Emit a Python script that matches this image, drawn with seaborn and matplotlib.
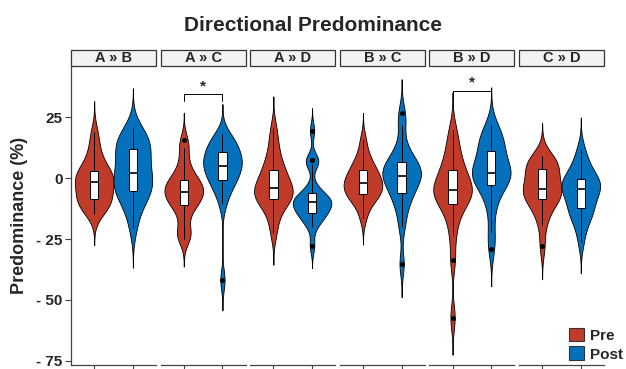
import matplotlib
matplotlib.use("Agg")
import matplotlib.pyplot as plt
from matplotlib.patches import Rectangle, Patch
import seaborn as sns
import numpy as np
import pandas as pd

# panel labels and groups
panels = ["A » B", "A » C", "A » D", "B » C", "B » D", "C » D"]
times = ["Pre", "Post"]
colors = {"Pre": "#C13B2A", "Post": "#0571BD"}

# values (approximate distributions per group)
pre_ab = [-14.8, -13, -11.5, -10.3, -9.3, -8.5, -7.1, -5.7, -4.3, -2.9, -1.5,
          -0.6, 0.3, 1.2, 2.1, 3.1, 4.8, 7, 10, 14, 19]
post_ab = [-20.3, -14, -10, -8, -6.2, -5.1, -3.5, -2, -0.5, 1, 2,
           4, 6.5, 8.5, 10.5, 12.2, 13.5, 14.8, 16.5, 18.5, 20.5]
pre_ac = [-25, -23, -21.5, -16, -12.5, -11.1, -9.5, -8.5, -7.5, -6.5, -5.7,
          -4.5, -3.5, -2.5, -1.5, -0.8, 1, 3.5, 7, 12.3, 15.6]
post_ac = [-41.8, -10.7, -6, -3.5, -2, -0.7, 1, 2.5, 3.5, 4.5, 5.2,
           6.5, 7.5, 8.5, 9.8, 10.7, 12, 13.5, 15, 16.5, 18]
pre_ad = [-22.5, -17, -13, -11, -9.5, -8.6, -7.5, -6.5, -5.5, -4.8, -4.1,
          -3, -1.5, 0, 1.8, 3.3, 5, 7.5, 11, 15, 20.6]
post_ad = [-27.7, -20.1, -17.5, -16, -15, -14.4, -13, -12, -11, -10.5, -9.9,
           -9.2, -8.5, -7.8, -7, -6.0, -3, 5.9, 7.5, 7.5, 19.6]
pre_bc = [-16.4, -12, -9.5, -8, -7.2, -6.6, -5.5, -4.5, -3.5, -2.6, -1.9,
          -1.2, -0.3, 0.8, 2, 3.3, 4.5, 6, 8, 11, 16]
post_bc = [-35.2, -20, -14, -10, -7.5, -5.9, -4, -2, -0.5, 0.3, 1.1,
           2, 3, 4, 5.5, 6.6, 8, 10, 14, 22, 27]
pre_bd = [-57.2, -33.5, -23.3, -17, -13, -10.7, -9, -7.5, -6.5, -5.5, -4.7,
          -3.5, -2.5, -1, 1, 3.3, 5, 7.5, 11, 15, 20]
post_bd = [-28.9, -22, -13, -8, -4.5, -2.8, -1, 0.5, 1.3, 1.8, 2.3,
           3.5, 5, 7, 9.5, 11.3, 13, 15, 17, 19, 21.9]
pre_cd = [-28, -19.2, -15, -12, -10, -8.6, -7.5, -6.5, -5.5, -5, -4.5,
          -3, -1, 0.5, 2, 3.7, 5, 6, 7, 8, 9.2]
post_cd = [-26, -20, -17, -15, -13.5, -12.3, -10.5, -8.5, -7, -5.5, -4.5,
           -3.5, -2.8, -2, -1.2, -0.4, 1, 3, 5, 8, 11.9]

groups = {
    "A » B": (pre_ab, post_ab),
    "A » C": (pre_ac, post_ac),
    "A » D": (pre_ad, post_ad),
    "B » C": (pre_bc, post_bc),
    "B » D": (pre_bd, post_bd),
    "C » D": (pre_cd, post_cd),
}
significant = ["A » C", "B » D"]

yticks = [25, 0, -25, -50, -75]
ytick_labels = ["25", "0", "- 25", "- 50", "- 75"]

rows = []
for p in panels:
    for t, vals in zip(times, groups[p]):
        for v in vals:
            rows.append({"panel": p, "time": t, "value": v})
df = pd.DataFrame(rows)


def nrd0(kde):
    # R-style default bandwidth, returned as a factor of the data sd
    x = kde.dataset.ravel()
    sd = x.std(ddof=1)
    q75, q25 = np.percentile(x, [75, 25])
    bw = 0.9 * min(sd, (q75 - q25) / 1.34) * len(x) ** -0.2
    return bw / sd


sns.set_style("white")
plt.rcParams["font.family"] = ["Liberation Sans", "DejaVu Sans"]
plt.rcParams["font.weight"] = "bold"

fig, axes = plt.subplots(1, 6, figsize=(6.26, 3.69), dpi=100, sharey=True)
fig.subplots_adjust(left=71 / 626, right=604 / 626, top=1 - 66 / 369,
                    bottom=1 - 365 / 369, wspace=0.053)

axis_col = "#444444"
for i, (ax, p) in enumerate(zip(axes, panels)):
    sub = df[df["panel"] == p]
    sns.violinplot(data=sub, x="time", y="value", hue="time", order=times,
                   hue_order=times, palette=colors, saturation=1, inner=None,
                   cut=3, bw_method=nrd0, width=1.0, linewidth=0.6,
                   linecolor="black", legend=False, ax=ax)
    sns.boxplot(data=sub, x="time", y="value", order=times, color="white",
                saturation=1, width=0.22, showcaps=False, linecolor="black",
                linewidth=0.7, fliersize=2.5,
                flierprops={"marker": "o", "markerfacecolor": "black",
                            "markeredgecolor": "black"},
                medianprops={"linewidth": 1.2}, ax=ax)
    ax.set_xlim(-0.6, 1.6)
    ax.set_ylim(-76.7, 46.1)
    ax.set_xlabel("")
    ax.set_ylabel("")
    ax.set_xticks([0, 1])
    ax.set_xticklabels([])
    for s in ["top", "right", "left"]:
        ax.spines[s].set_visible(False)
    ax.spines["bottom"].set_color(axis_col)
    ax.spines["bottom"].set_linewidth(0.9)
    ax.tick_params(axis="x", length=4, width=0.8, color=axis_col, bottom=True)
    if i == 0:
        ax.spines["left"].set_visible(True)
        ax.spines["left"].set_color(axis_col)
        ax.spines["left"].set_linewidth(0.9)
        ax.set_yticks(yticks)
        ax.set_yticklabels(ytick_labels, fontsize=11, fontweight="bold")
        ax.tick_params(axis="y", length=4, width=0.8, color=axis_col, left=True,
                       pad=2)
        ax.set_ylabel("Predominance (%)", fontsize=13, fontweight="bold",
                      labelpad=6)
    else:
        ax.tick_params(axis="y", left=False, labelleft=False)

    # facet strip
    strip_h = 16 / 299
    ax.add_patch(Rectangle((0, 1.0), 1, strip_h, transform=ax.transAxes,
                           facecolor="#F2F2F2", edgecolor="#333333",
                           linewidth=0.9, clip_on=False))
    ax.text(0.5, 1 + strip_h / 2, p, transform=ax.transAxes, ha="center",
            va="center", fontsize=10.5, fontweight="bold")

    if p in significant:
        top = 34.6 if p == "A » C" else 36.0
        ax.plot([0, 0, 1, 1], [top - 3, top, top, top - 3], color="black",
                linewidth=0.7, clip_on=False)
        ax.text(0.5, top + 0.3, "*", ha="center", va="bottom", fontsize=11,
                fontweight="bold")

fig.suptitle("Directional Predominance", fontsize=15, fontweight="bold",
             y=0.956)

handles = [Patch(facecolor=colors[t], edgecolor="#333333", linewidth=0.8)
           for t in times]
fig.legend(handles, times, loc="lower right", bbox_to_anchor=(1.0, 0.012),
           frameon=False, handlelength=1.0, handleheight=1.0,
           handletextpad=0.4, labelspacing=0.25, borderaxespad=0,
           borderpad=0.2, prop={"weight": "bold", "size": 11})

fig.savefig("out.png", dpi=100)
